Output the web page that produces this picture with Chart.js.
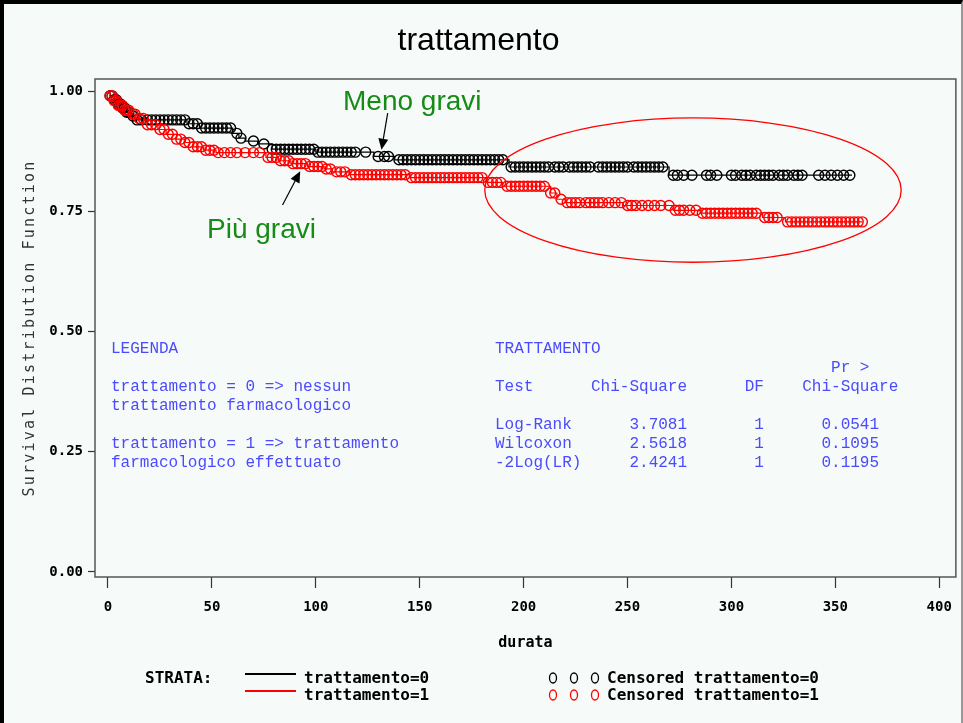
<!DOCTYPE html>
<html><head><meta charset="utf-8">
<script src="https://cdn.jsdelivr.net/npm/chart.js@4.4.1/dist/chart.umd.min.js"></script>
<style>
html,body{margin:0;padding:0;background:#fff;}
#wrap{position:relative;width:963px;height:723px;background:#f6faf8;overflow:hidden;}
#frame{position:absolute;left:0;top:0;width:963px;height:723px;box-sizing:border-box;border-left:4px solid #000;border-top:4px solid #000;border-right:2px solid #999;pointer-events:none;}
#c{position:absolute;left:0;top:0;}
.ov{position:absolute;white-space:pre;margin:0;}
.mono{font-family:'Liberation Mono','Courier New',monospace;font-size:16px;line-height:19px;color:#4a4aff;}
.green{font-family:'Liberation Sans',Arial,sans-serif;font-size:28px;line-height:28px;color:#168c16;}
.leg{font-family:'DejaVu Sans Mono',monospace;font-weight:bold;font-size:16px;line-height:18px;color:#000;}
.ln{position:absolute;height:2px;width:51px;}
</style></head>
<body>
<div id="wrap">
<canvas id="c" width="963" height="723"></canvas>
<div id="frame"></div>
<div class="ov green" style="left:343px;top:87px;">Meno gravi</div>
<div class="ov green" style="left:207px;top:215px;">Più gravi</div>
<div class="ov mono" style="left:111px;top:340px;">LEGENDA

trattamento = 0 =&gt; nessun
trattamento farmacologico

trattamento = 1 =&gt; trattamento
farmacologico effettuato</div>
<div class="ov mono" style="left:495px;top:340px;">TRATTAMENTO
                                   Pr &gt;
Test      Chi-Square      DF    Chi-Square

Log-Rank      3.7081       1      0.0541
Wilcoxon      2.5618       1      0.1095
-2Log(LR)     2.4241       1      0.1195</div>
<div class="ov leg" style="left:145px;top:669px;">STRATA:</div>
<div class="ln" style="left:245px;top:673px;background:#000;"></div>
<div class="ov leg" style="left:304px;top:669px;">trattamento=0</div>
<div class="ln" style="left:245px;top:690px;background:#f00;"></div>
<div class="ov leg" style="left:304px;top:686px;">trattamento=1</div>
<svg class="ov" style="left:545px;top:670px;" width="60" height="34">
<g fill="none" stroke="#000" stroke-width="1.3"><ellipse cx="8" cy="8" rx="3.5" ry="5"/><ellipse cx="29" cy="8" rx="3.5" ry="5"/><ellipse cx="50" cy="8" rx="3.5" ry="5"/></g>
<g fill="none" stroke="#f00" stroke-width="1.3"><ellipse cx="8" cy="25" rx="3.5" ry="5"/><ellipse cx="29" cy="25" rx="3.5" ry="5"/><ellipse cx="50" cy="25" rx="3.5" ry="5"/></g>
</svg>
<div class="ov leg" style="left:607px;top:669px;">Censored trattamento=0</div>
<div class="ov leg" style="left:607px;top:686px;">Censored trattamento=1</div>
</div>
<script>
// ---- data ----
const xTicks = [0, 50, 100, 150, 200, 250, 300, 350, 400];
const yTicks = [0, 0.25, 0.5, 0.75, 1.0];

// trattamento=0 : Kaplan-Meier step points (time, survival)
const stepTimes0 = [0, 1, 3, 5, 7, 9, 11, 13, 38, 44, 60, 63, 66, 72, 79, 100, 128, 138, 193, 270];
const stepSurv0  = [1.0, 0.99, 0.982, 0.973, 0.965, 0.956, 0.948, 0.94, 0.932, 0.923, 0.912, 0.902, 0.896, 0.89, 0.879, 0.873, 0.864, 0.857, 0.842, 0.825];
const lastTime0 = 358;

// trattamento=1
const stepTimes1 = [0, 1, 3, 5, 8, 11, 15, 19, 24, 28, 33, 37, 41, 46, 52, 76, 82, 88, 96, 104, 108, 116, 145, 182, 190, 213, 216, 220, 248, 272, 285, 315, 326];
const stepSurv1  = [1.0, 0.99, 0.98, 0.97, 0.96, 0.952, 0.943, 0.93, 0.92, 0.91, 0.9, 0.893, 0.884, 0.877, 0.872, 0.862, 0.855, 0.849, 0.843, 0.838, 0.832, 0.826, 0.82, 0.81, 0.802, 0.788, 0.775, 0.768, 0.762, 0.752, 0.746, 0.737, 0.728];
const lastTime1 = 363;

// censoring times
const censTimes0 = [1, 2, 3, 4, 5, 6, 7, 8, 9, 10, 12, 14, 16, 19, 21, 23, 25, 27, 29, 31, 33, 35, 37, 39, 41, 43, 45, 47, 49, 51, 53, 55, 57, 59, 62, 64, 70, 75, 79, 81, 83, 85, 87, 89, 91, 93, 95, 97, 99, 101, 103, 105, 107, 109, 111, 113, 115, 117, 119, 124, 130, 133, 135, 140, 142, 144, 146, 148, 150, 152, 154, 156, 158, 160, 162, 164, 166, 168, 170, 172, 174, 176, 178, 180, 182, 184, 186, 188, 190, 194, 196, 198, 200, 202, 204, 206, 208, 210, 212, 215, 217, 219, 222, 224, 226, 228, 230, 232, 236, 238, 240, 242, 244, 246, 248, 250, 253, 255, 257, 259, 261, 263, 265, 267, 272, 274, 277, 281, 288, 290, 293, 300, 302, 305, 307, 309, 312, 314, 316, 318, 320, 323, 325, 327, 330, 332, 334, 342, 345, 348, 351, 354, 357];
const censTimes1 = [1, 2, 3, 4, 5, 6, 7, 8, 9, 10, 12, 13, 15, 17, 19, 21, 23, 25, 27, 29, 31, 33, 35, 37, 39, 41, 43, 45, 47, 49, 51, 53, 56, 59, 62, 66, 70, 73, 77, 79, 81, 83, 85, 87, 89, 91, 93, 95, 97, 99, 101, 103, 105, 107, 110, 112, 114, 117, 119, 121, 123, 125, 127, 129, 131, 133, 135, 137, 139, 141, 143, 146, 148, 150, 152, 154, 156, 158, 160, 162, 164, 166, 168, 170, 172, 174, 176, 178, 180, 183, 185, 187, 189, 192, 194, 196, 198, 200, 202, 204, 206, 208, 210, 213, 215, 218, 221, 223, 225, 227, 230, 232, 234, 236, 238, 241, 244, 247, 250, 252, 254, 257, 260, 263, 266, 270, 273, 275, 277, 280, 283, 286, 288, 290, 292, 294, 296, 298, 300, 302, 304, 306, 308, 310, 312, 316, 318, 320, 322, 327, 329, 331, 333, 335, 337, 339, 341, 343, 345, 347, 349, 351, 353, 355, 357, 359, 361, 363];

// ---- helpers ----
function stepLine(times, surv, last) {
  const pts = times.map((t, i) => ({x: t, y: surv[i]}));
  pts.push({x: last, y: surv[surv.length - 1]});
  return pts;
}
function survAt(times, surv, t) {
  let s = surv[0];
  for (let i = 0; i < times.length; i++) if (times[i] <= t) s = surv[i];
  return s;
}
function censPoints(cens, times, surv) {
  return cens.map(t => ({x: t, y: survAt(times, surv, t)}));
}

// annotation geometry (data coordinates)
const ellipseAnn = {cx: 281.5, cy: 0.794, rx: 100.2, ry: 0.15};
const arrowsAnn = [
  {from: [134.6, 0.954], to: [131.6, 0.878]},
  {from: [84.0, 0.763], to: [92.5, 0.833]}
];

const annPlugin = {
  id: 'ann',
  afterLayout(chart) {
    const ys = chart.scales.y;
    if (!ys._lsPatched) {
      const orig = ys.drawTitle.bind(ys);
      ys.drawTitle = function () {
        const ctx = this.ctx;
        const prev = ctx.letterSpacing;
        ctx.letterSpacing = '2.2px';
        orig();
        ctx.letterSpacing = prev || '0px';
      };
      ys._lsPatched = true;
    }
  },
  beforeDatasetsDraw(chart) {
    const {ctx, chartArea: a} = chart;
    ctx.save();
    ctx.strokeStyle = '#555';
    ctx.lineWidth = 1.5;
    ctx.strokeRect(a.left, a.top, a.right - a.left, a.bottom - a.top);
    ctx.restore();
  },
  afterDatasetsDraw(chart) {
    const {ctx, scales: {x, y}} = chart;
    ctx.save();
    const cx = x.getPixelForValue(ellipseAnn.cx), cy = y.getPixelForValue(ellipseAnn.cy);
    const rx = Math.abs(x.getPixelForValue(ellipseAnn.cx + ellipseAnn.rx) - cx);
    const ry = Math.abs(y.getPixelForValue(ellipseAnn.cy + ellipseAnn.ry) - cy);
    ctx.strokeStyle = '#ff0000';
    ctx.lineWidth = 1.3;
    ctx.beginPath();
    ctx.ellipse(cx, cy, rx, ry, 0, 0, Math.PI * 2);
    ctx.stroke();
    ctx.strokeStyle = '#000';
    ctx.fillStyle = '#000';
    ctx.lineWidth = 1.2;
    arrowsAnn.forEach(ar => {
      const x1 = x.getPixelForValue(ar.from[0]), y1 = y.getPixelForValue(ar.from[1]);
      const x2 = x.getPixelForValue(ar.to[0]), y2 = y.getPixelForValue(ar.to[1]);
      const ang = Math.atan2(y2 - y1, x2 - x1);
      const hl = 11, hw = 5;
      const bx = x2 - hl * Math.cos(ang), by = y2 - hl * Math.sin(ang);
      ctx.beginPath(); ctx.moveTo(x1, y1); ctx.lineTo(bx, by); ctx.stroke();
      ctx.beginPath();
      ctx.moveTo(x2, y2);
      ctx.lineTo(bx + hw * Math.sin(ang), by - hw * Math.cos(ang));
      ctx.lineTo(bx - hw * Math.sin(ang), by + hw * Math.cos(ang));
      ctx.closePath(); ctx.fill();
    });
    ctx.restore();
  }
};

const tickFont = {family: "'DejaVu Sans Mono', monospace", size: 14, weight: 'bold'};

new Chart(document.getElementById('c'), {
  type: 'scatter',
  data: {
    datasets: [
      {label: 'Censored trattamento=1', data: censPoints(censTimes1, stepTimes1, stepSurv1), showLine: false,
       pointStyle: 'circle', pointRadius: 5, pointBorderWidth: 1.4, pointBorderColor: '#ff0000', pointBackgroundColor: 'rgba(0,0,0,0)', order: 0},
      {label: 'Censored trattamento=0', data: censPoints(censTimes0, stepTimes0, stepSurv0), showLine: false,
       pointStyle: 'circle', pointRadius: 5, pointBorderWidth: 1.4, pointBorderColor: '#000000', pointBackgroundColor: 'rgba(0,0,0,0)', order: 1},
      {label: 'trattamento=1', data: stepLine(stepTimes1, stepSurv1, lastTime1), showLine: true, stepped: 'before',
       borderColor: '#ff0000', borderWidth: 1.2, pointRadius: 0, order: 2},
      {label: 'trattamento=0', data: stepLine(stepTimes0, stepSurv0, lastTime0), showLine: true, stepped: 'before',
       borderColor: '#000000', borderWidth: 1.2, pointRadius: 0, order: 3}
    ]
  },
  options: {
    responsive: false,
    animation: false,
    events: [],
    layout: {padding: {left: 0, right: 6, top: 0, bottom: 0}},
    plugins: {
      legend: {display: false},
      tooltip: {enabled: false},
      title: {
        display: true, text: 'trattamento', color: '#000',
        font: {family: "'Liberation Sans', Arial, sans-serif", size: 32, weight: 'normal', lineHeight: 1.2},
        padding: {top: 22, bottom: 18.6}
      }
    },
    scales: {
      x: {
        type: 'linear', min: -6.25, max: 408,
        afterBuildTicks: s => { s.ticks = xTicks.map(v => ({value: v})); },
        afterFit: s => { s.height = 146; },
        border: {display: false},
        grid: {drawOnChartArea: false, drawTicks: true, tickLength: 11, color: '#333', tickWidth: 1.2},
        ticks: {color: '#000', font: tickFont, padding: 11, maxRotation: 0, autoSkip: false},
        title: {display: true, text: 'durata', color: '#000',
                font: {family: "'DejaVu Sans Mono', monospace", size: 15, weight: 'bold', lineHeight: 1.2},
                padding: {top: 0, bottom: 71}}
      },
      y: {
        type: 'linear', min: -0.0104, max: 1.025,
        afterBuildTicks: s => { s.ticks = yTicks.map(v => ({value: v})); },
        afterFit: s => { s.width = 95; },
        border: {display: false},
        grid: {drawOnChartArea: false, drawTicks: true, tickLength: 7, color: '#333', tickWidth: 1.2},
        ticks: {color: '#000', font: tickFont, padding: 5, callback: v => Number(v).toFixed(2)},
        title: {display: true, text: 'Survival Distribution Function', color: '#333',
                font: {family: "'DejaVu Sans Mono', monospace", size: 15, weight: 'normal', lineHeight: 1.2},
                padding: {top: 21, bottom: 0}}
      }
    }
  },
  plugins: [annPlugin]
});
</script>
</body></html>
